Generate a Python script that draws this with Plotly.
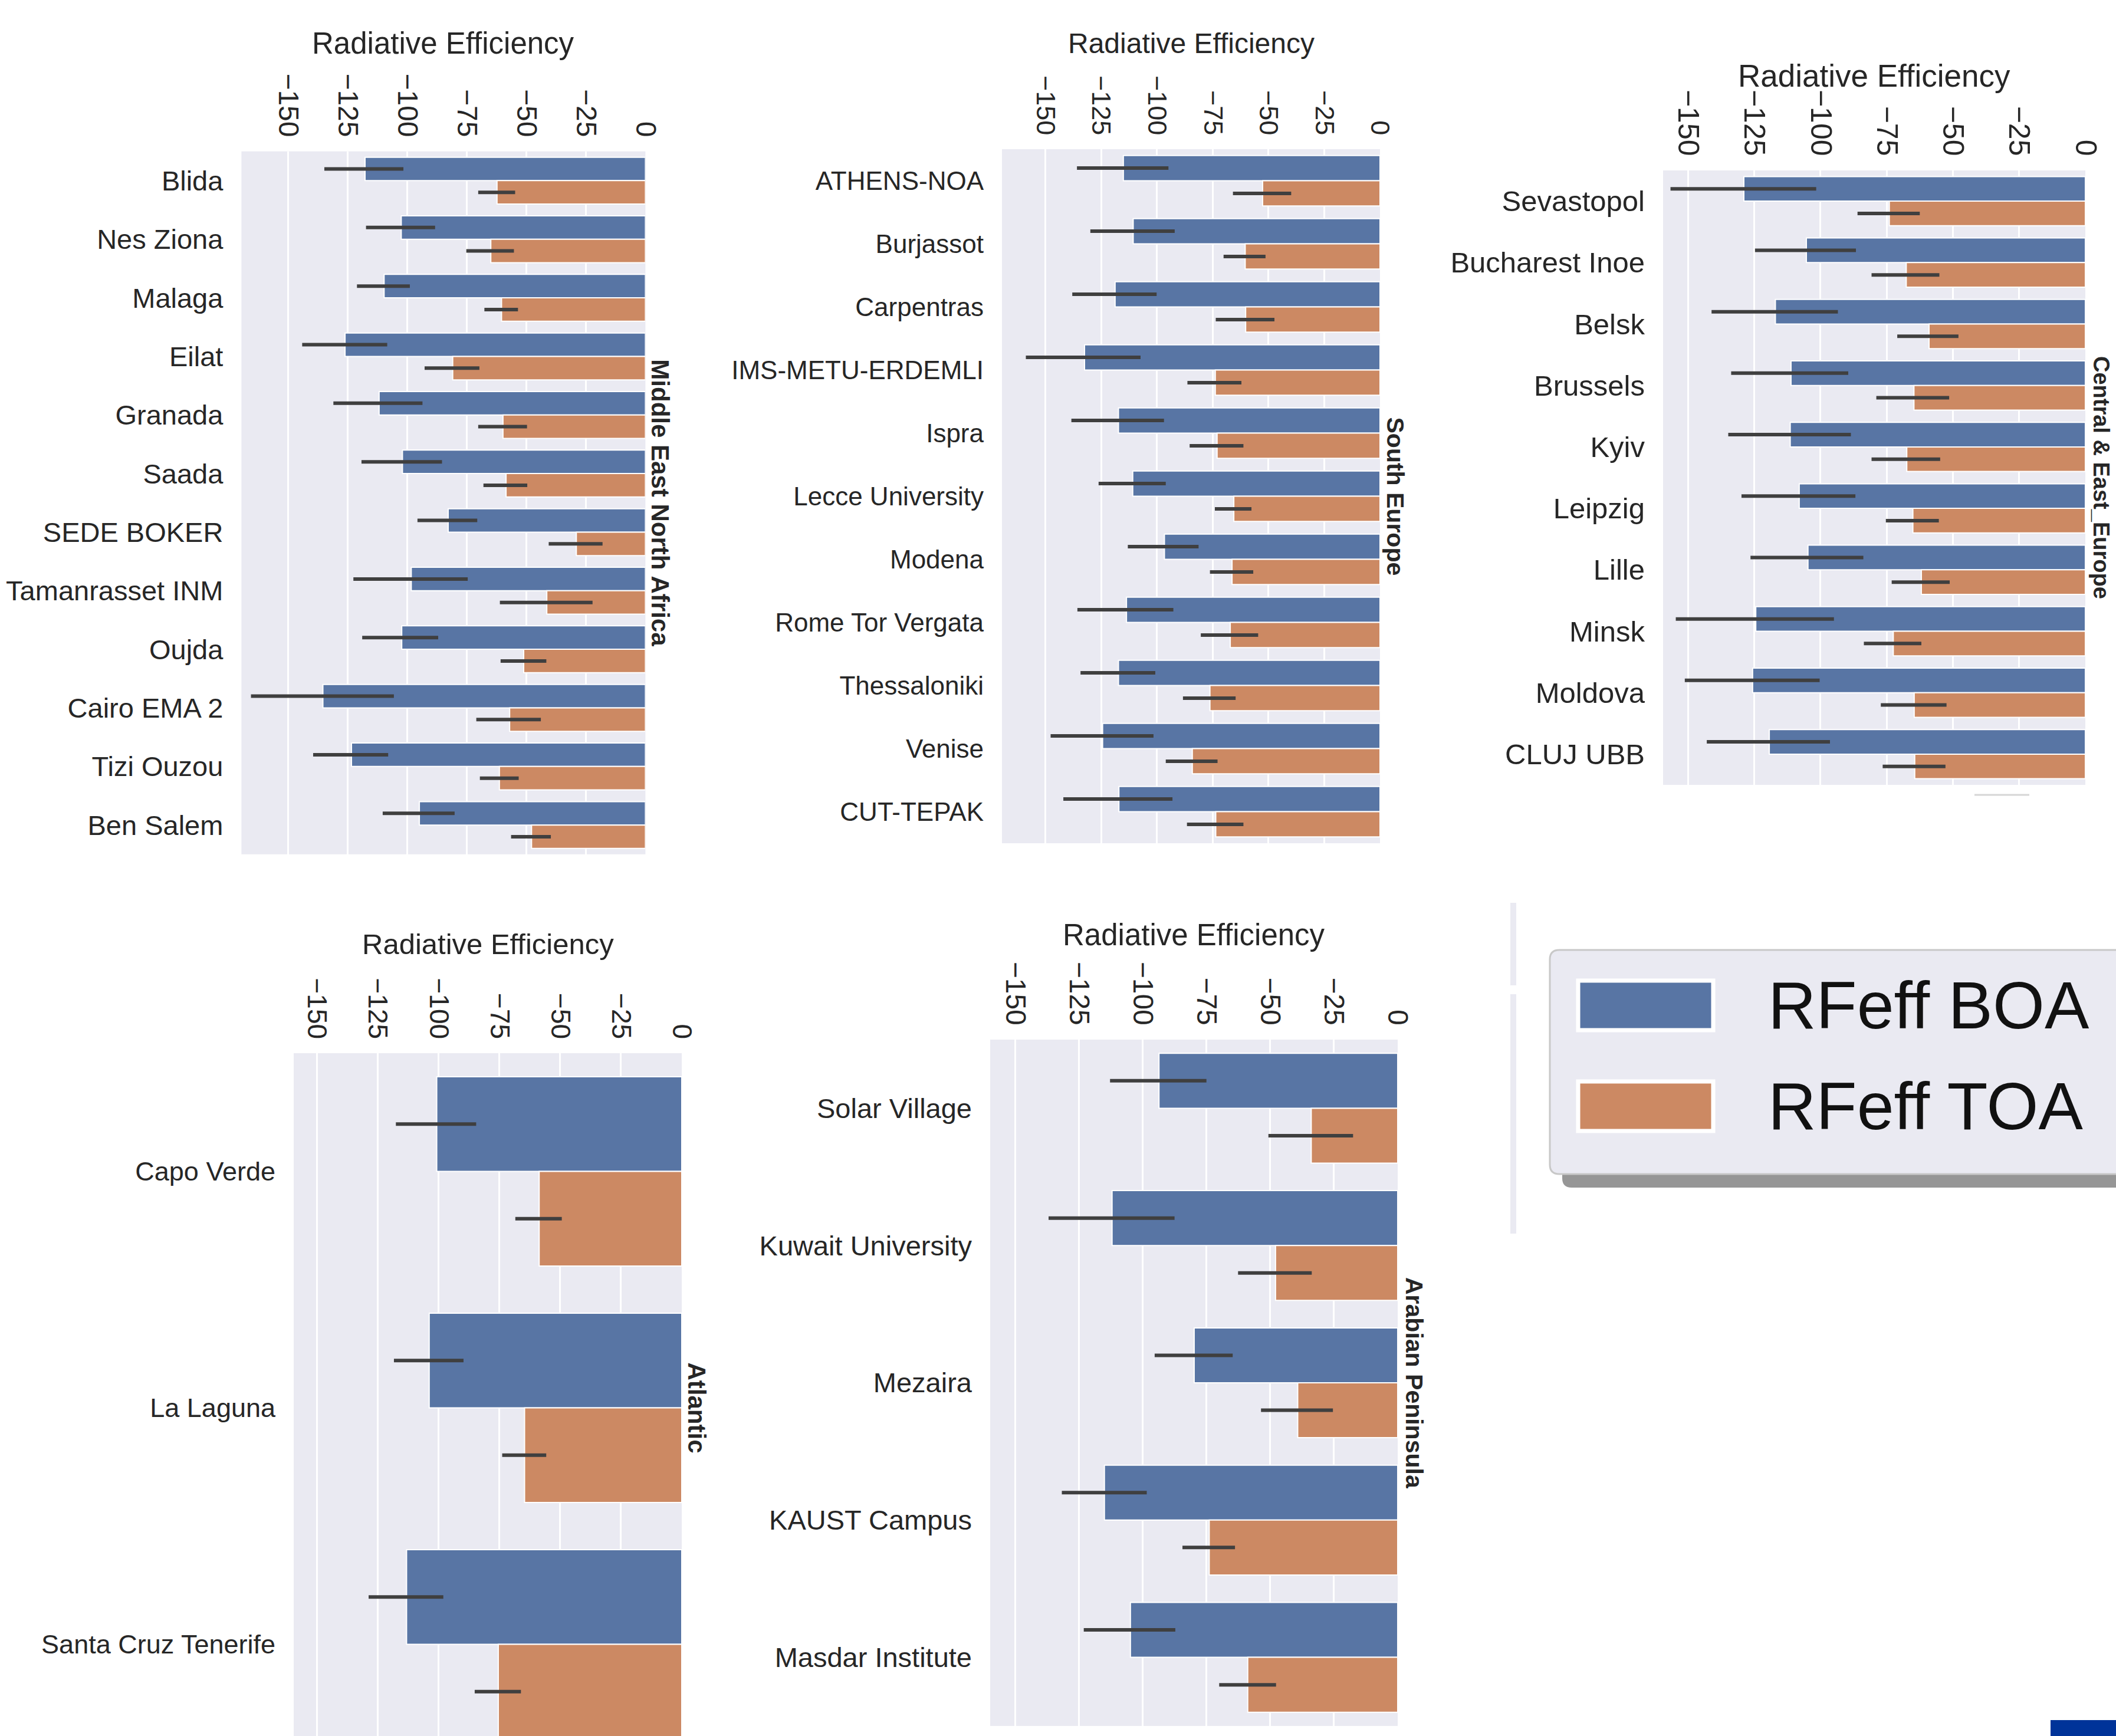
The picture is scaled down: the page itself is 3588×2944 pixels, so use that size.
import plotly.graph_objects as go

# ---------------------------------------------------------------- data
TICK_VALS = [-150, -125, -100, -75, -50, -25, 0]
TICK_TEXT = ["\u2212150", "\u2212125", "\u2212100", "\u221275", "\u221250", "\u221225", "0"]
AXIS_TITLE = "Radiative Efficiency"
SERIES_NAMES = ["RFeff BOA", "RFeff TOA"]

# Middle East North Africa
MENA_STATIONS = ["Blida", "Nes Ziona", "Malaga", "Eilat", "Granada", "Saada", "SEDE BOKER",
                 "Tamanrasset INM", "Oujda", "Cairo EMA 2", "Tizi Ouzou", "Ben Salem"]
MENA_BOA = [-117.7, -102.5, -109.7, -126.1, -111.8, -102.0, -82.8, -98.3, -102.3, -135.4, -123.4, -94.9]
MENA_BOA_LO = [-134.8, -117.3, -121.1, -144.1, -131.0, -119.2, -95.7, -122.6, -118.9, -165.6, -139.5, -110.3]
MENA_BOA_HI = [-101.6, -88.3, -98.9, -108.4, -93.6, -85.4, -70.6, -74.6, -87.0, -105.6, -108.0, -80.1]
MENA_TOA = [-62.3, -64.9, -60.4, -80.9, -59.8, -58.5, -29.0, -41.4, -51.1, -57.0, -61.3, -47.8]
MENA_TOA_LO = [-70.2, -75.2, -67.6, -92.7, -70.2, -68.0, -40.6, -61.1, -60.8, -71.0, -69.5, -56.4]
MENA_TOA_HI = [-54.7, -55.2, -53.5, -69.7, -49.7, -49.6, -18.0, -22.2, -41.6, -43.9, -53.2, -39.7]

# South Europe
SE_STATIONS = ["ATHENS-NOA", "Burjassot", "Carpentras", "IMS-METU-ERDEMLI", "Ispra", "Lecce University",
               "Modena", "Rome Tor Vergata", "Thessaloniki", "Venise", "CUT-TEPAK"]
SE_BOA = [-115.0, -110.6, -118.7, -132.4, -117.2, -110.8, -96.6, -113.6, -117.2, -124.3, -117.0]
SE_BOA_LO = [-135.8, -129.8, -137.9, -158.7, -138.3, -126.1, -113.0, -135.6, -134.2, -147.6, -141.9]
SE_BOA_HI = [-94.8, -92.0, -100.1, -107.3, -96.8, -96.0, -81.3, -92.6, -100.7, -101.5, -93.0]
SE_TOA = [-52.6, -60.4, -60.2, -73.8, -73.0, -65.5, -66.3, -67.1, -76.2, -84.1, -73.6]
SE_TOA_LO = [-65.9, -70.1, -73.6, -86.3, -85.3, -74.0, -76.2, -80.3, -88.3, -96.0, -86.5]
SE_TOA_HI = [-39.8, -51.3, -47.3, -62.1, -61.2, -57.6, -56.8, -54.6, -64.7, -72.8, -61.2]

# Central & East Europe
CEE_STATIONS = ["Sevastopol", "Bucharest Inoe", "Belsk", "Brussels", "Kyiv", "Leipzig", "Lille",
                "Minsk", "Moldova", "CLUJ UBB"]
CEE_BOA = [-128.9, -105.3, -117.0, -111.1, -111.4, -108.0, -104.7, -124.4, -125.6, -119.3]
CEE_BOA_LO = [-156.6, -124.7, -141.1, -133.7, -134.8, -129.8, -126.4, -154.6, -151.2, -142.9]
CEE_BOA_HI = [-101.6, -86.6, -93.4, -89.5, -88.5, -86.8, -83.8, -94.9, -100.3, -96.4]
CEE_TOA = [-74.0, -67.6, -59.0, -64.7, -67.4, -65.1, -61.9, -72.5, -64.6, -64.4]
CEE_TOA_LO = [-86.0, -80.7, -71.0, -78.9, -80.7, -75.3, -73.1, -83.6, -77.2, -76.5]
CEE_TOA_HI = [-62.5, -55.1, -47.9, -51.4, -54.8, -55.3, -51.2, -61.9, -52.4, -52.8]

# Atlantic
ATL_STATIONS = ["Capo Verde", "La Laguna", "Santa Cruz Tenerife"]
ATL_BOA = [-100.7, -103.8, -113.1]
ATL_BOA_LO = [-117.5, -118.3, -128.7]
ATL_BOA_HI = [-84.5, -89.7, -98.0]
ATL_TOA = [-58.6, -64.6, -75.4]
ATL_TOA_LO = [-68.4, -73.8, -85.1]
ATL_TOA_HI = [-49.3, -55.7, -66.1]

# Arabian Peninsula
AP_STATIONS = ["Solar Village", "Kuwait University", "Mezaira", "KAUST Campus", "Masdar Institute"]
AP_BOA = [-93.6, -112.0, -79.8, -115.0, -104.8]
AP_BOA_LO = [-112.8, -136.9, -95.3, -131.7, -123.1]
AP_BOA_HI = [-75.0, -87.5, -64.7, -98.4, -87.2]
AP_TOA = [-33.9, -47.9, -39.2, -73.9, -58.8]
AP_TOA_LO = [-50.7, -62.6, -53.6, -84.4, -70.0]
AP_TOA_HI = [-17.5, -33.7, -25.4, -63.8, -47.7]

# ---------------------------------------------------------------- style
W, H = 3588, 2944
FONT = "Liberation Sans, Arial, Helvetica, sans-serif"
BLUE = "#5875A4"
ORANGE = "#CC8963"
ERR = "#3f3f3f"
BG = "#EAEAF2"
TXT = "#262626"


def fx(x):
    return x / W


def fy(y):
    return 1 - y / H


# pixel boxes of each facet: left, right, top, bottom
panels = [
    dict(region="Middle East North Africa", stations=MENA_STATIONS,
         boa=(MENA_BOA, MENA_BOA_LO, MENA_BOA_HI), toa=(MENA_TOA, MENA_TOA_LO, MENA_TOA_HI),
         box=(409.4, 1094.4, 256.7, 1448.8), xmin=-169.6, fs=47, facet_fs=42,
         title_y=73.6, facet_dx=25, band=None),
    dict(region="South Europe", stations=SE_STATIONS,
         boa=(SE_BOA, SE_BOA_LO, SE_BOA_HI), toa=(SE_TOA, SE_TOA_LO, SE_TOA_HI),
         box=(1699, 2340, 253, 1430), xmin=-169.4, fs=44, facet_fs=41,
         title_y=73.6, facet_dx=25, band=None),
    dict(region="Central & East_Europe", stations=CEE_STATIONS,
         boa=(CEE_BOA, CEE_BOA_LO, CEE_BOA_HI), toa=(CEE_TOA, CEE_TOA_LO, CEE_TOA_HI),
         box=(2820, 3536, 289, 1331), xmin=-159.4, fs=49, facet_fs=38,
         title_y=129, facet_dx=27, band=None),
    dict(region="Atlantic", stations=ATL_STATIONS,
         boa=(ATL_BOA, ATL_BOA_LO, ATL_BOA_HI), toa=(ATL_TOA, ATL_TOA_LO, ATL_TOA_HI),
         box=(498, 1156, 1786, 2944), xmin=-159.5, fs=45, facet_fs=42,
         title_y=1601, facet_dx=25, band=401),
    dict(region="Arabian Peninsula", stations=AP_STATIONS,
         boa=(AP_BOA, AP_BOA_LO, AP_BOA_HI), toa=(AP_TOA, AP_TOA_LO, AP_TOA_HI),
         box=(1679, 2370, 1763, 2927), xmin=-159.8, fs=47, facet_fs=41,
         title_y=1585, facet_dx=28, band=None),
]

fig = go.Figure()
annotations = []
layout_axes = {}

for i, p in enumerate(panels, start=1):
    xa = "x" if i == 1 else f"x{i}"
    ya = "y" if i == 1 else f"y{i}"
    x0, x1, y0, y1 = p["box"]
    n = len(p["stations"])
    fs = p["fs"]

    for (vals, lo, hi), color, name in [(p["boa"], BLUE, SERIES_NAMES[0]),
                                         (p["toa"], ORANGE, SERIES_NAMES[1])]:
        fig.add_trace(go.Bar(
            y=p["stations"], x=vals, orientation="h", name=name,
            marker=dict(color=color, line=dict(color="white", width=2)),
            error_x=dict(type="data", symmetric=False,
                         array=[h - v for v, h in zip(vals, hi)],
                         arrayminus=[v - l for v, l in zip(vals, lo)],
                         color=ERR, thickness=6, width=0),
            xaxis=xa, yaxis=ya, showlegend=False, hoverinfo="skip",
        ))

    # visible category span (the Atlantic facet runs off the bottom edge)
    if p["band"]:
        top_val = -0.5 + (y1 - y0) / p["band"]
    else:
        top_val = n - 0.5

    layout_axes["xaxis" if i == 1 else f"xaxis{i}"] = dict(
        domain=[fx(x0), fx(x1)], range=[p["xmin"], 0], anchor=ya, side="top",
        tickvals=TICK_VALS, ticktext=TICK_TEXT, tickangle=90,
        tickfont=dict(family=FONT, size=round(fs * 1.03), color=TXT),
        showgrid=True, gridcolor="white", gridwidth=3, zeroline=False,
        showline=False, ticks="", ticklabelstandoff=16, fixedrange=True,
    )
    layout_axes["yaxis" if i == 1 else f"yaxis{i}"] = dict(
        domain=[fy(y1), fy(y0)], range=[top_val, -0.5], anchor=xa,
        type="category", categoryorder="array", categoryarray=p["stations"],
        tickfont=dict(family=FONT, size=fs, color=TXT),
        showgrid=False, zeroline=False, showline=False, ticks="",
        ticklabelstandoff=30, fixedrange=True,
    )

    # axis title above the rotated tick labels
    annotations.append(dict(
        text=AXIS_TITLE, xref="paper", yref="paper",
        x=fx((x0 + x1) / 2), y=fy(p["title_y"]), xanchor="center", yanchor="middle",
        showarrow=False, font=dict(family=FONT, size=round(fs * 1.08), color=TXT),
    ))
    # facet (region) label on the right-hand side
    full_bottom = y0 + p["band"] * n if p["band"] else y1
    annotations.append(dict(
        text=f"<b>{p['region']}</b>", xref="paper", yref="paper",
        x=fx(x1 + p["facet_dx"]), y=fy((y0 + full_bottom) / 2),
        xanchor="center", yanchor="middle", textangle=90, showarrow=False,
        font=dict(family=FONT, size=p["facet_fs"], color=TXT),
    ))


def rounded_rect(l, t, r, b, rad):
    """SVG path of a rounded rectangle in pixel units, converted to paper coords."""
    pts = [
        ("M", (l + rad, t)), ("L", (r - rad, t)), ("Q", (r, t), (r, t + rad)),
        ("L", (r, b - rad)), ("Q", (r, b), (r - rad, b)), ("L", (l + rad, b)),
        ("Q", (l, b), (l, b - rad)), ("L", (l, t + rad)), ("Q", (l, t), (l + rad, t)),
    ]
    out = []
    for cmd, *xy in pts:
        out.append(cmd + " " + " ".join(f"{fx(x):.5f},{fy(y):.5f}" for x, y in xy))
    return " ".join(out) + " Z"


shapes = []
# light divider strip left of the legend
for top, bottom in [(1531, 1671), (1686, 2092)]:
    shapes.append(dict(type="rect", xref="paper", yref="paper",
                       x0=fx(2561), x1=fx(2571), y0=fy(bottom), y1=fy(top),
                       fillcolor=BG, line=dict(width=0), layer="below"))
# legend frame with drop shadow
shapes.append(dict(type="path", xref="paper", yref="paper",
                   path=rounded_rect(2649, 1632, 3640, 2014, 16),
                   fillcolor="#969696", line=dict(width=0)))
shapes.append(dict(type="path", xref="paper", yref="paper",
                   path=rounded_rect(2628, 1611, 3620, 1991, 16),
                   fillcolor=BG, line=dict(color="#c8c8c8", width=3)))
legend_rows = [(SERIES_NAMES[0], BLUE, 1705), (SERIES_NAMES[1], ORANGE, 1876)]
for label, color, cy in legend_rows:
    shapes.append(dict(type="rect", xref="paper", yref="paper",
                       x0=fx(2676), x1=fx(2905), y0=fy(cy + 42), y1=fy(cy - 42),
                       fillcolor=color, line=dict(color="white", width=7)))
    annotations.append(dict(
        text=label, xref="paper", yref="paper", x=fx(2996), y=fy(cy),
        xanchor="left", yanchor="middle", showarrow=False,
        font=dict(family=FONT, size=113, color="#111111"),
    ))
# small rounded stroke under the Central & East Europe facet
shapes.append(dict(type="line", xref="paper", yref="paper",
                   x0=fx(3348), x1=fx(3441), y0=fy(1348), y1=fy(1348),
                   line=dict(color="#d6d6d6", width=3)))
# blue corner block
shapes.append(dict(type="rect", xref="paper", yref="paper",
                   x0=fx(3477), x1=fx(3600), y0=fy(2960), y1=fy(2917),
                   fillcolor="#003399", line=dict(width=0)))

fig.update_layout(
    width=W, height=H, margin=dict(l=0, r=0, t=0, b=0, autoexpand=False),
    paper_bgcolor="white", plot_bgcolor=BG,
    barmode="group", bargap=0.2, bargroupgap=0,
    showlegend=False, annotations=annotations, shapes=shapes,
    font=dict(family=FONT, color=TXT),
    **layout_axes,
)

fig.write_html("out.html")
